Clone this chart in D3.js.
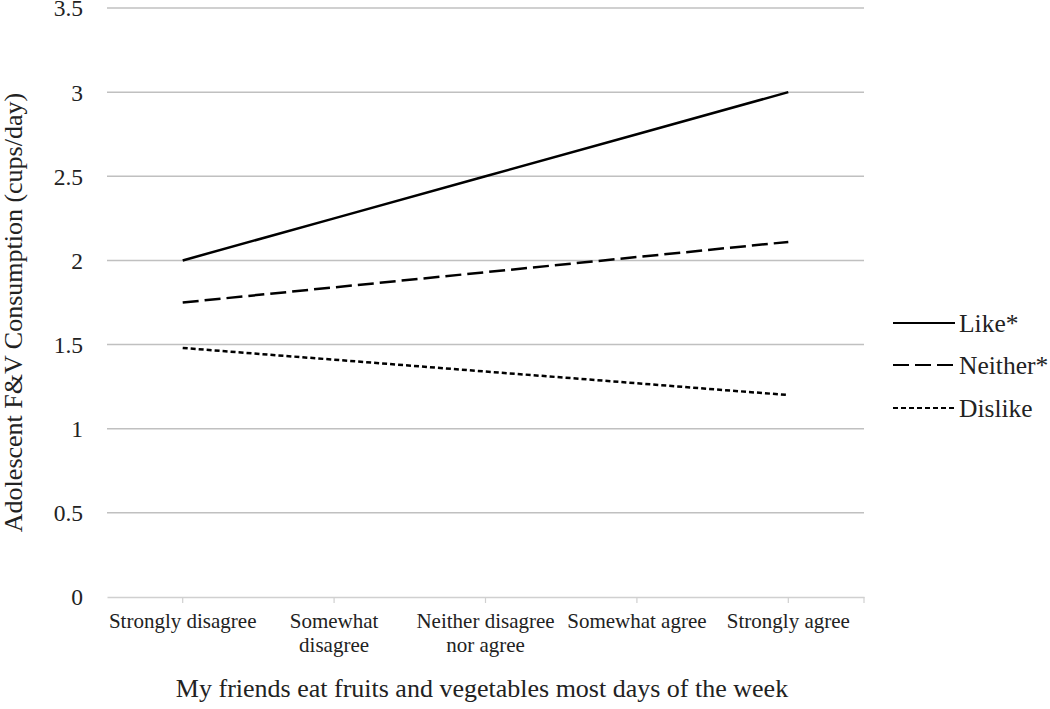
<!DOCTYPE html>
<html>
<head>
<meta charset="utf-8">
<script src="https://cdn.jsdelivr.net/npm/d3@7"></script>
<style>
  html, body { margin: 0; padding: 0; background: #fff; }
  svg { display: block; }
  svg text { font-family: "Liberation Serif", "Times New Roman", serif; }
</style>
</head>
<body>
<svg id="chart" width="1050" height="709"></svg>
<script>
const categories = [
  ["Strongly disagree"],
  ["Somewhat", "disagree"],
  ["Neither disagree", "nor agree"],
  ["Somewhat agree"],
  ["Strongly agree"]
];
const catKeys = categories.map(c => c.join(" "));
const yTicks = [0, 0.5, 1, 1.5, 2, 2.5, 3, 3.5];
const yTickLabels = ["0", "0.5", "1", "1.5", "2", "2.5", "3", "3.5"];
const seriesNames = ["Like*", "Neither*", "Dislike"];
const likeValues = [2.0, 2.25, 2.5, 2.75, 3.0];
const neitherValues = [1.75, 1.84, 1.93, 2.02, 2.11];
const dislikeValues = [1.48, 1.41, 1.34, 1.27, 1.20];
const seriesValues = [likeValues, neitherValues, dislikeValues];
const seriesDash = [null, "16,6", "5,3"];

const FONT = "Liberation Serif, Times New Roman, serif";
const svg = d3.select("#chart");
const pLeft = 107, pRight = 864, pTop = 8, pBottom = 597;

const x = d3.scaleBand().domain(catKeys).range([pLeft, pRight]).padding(0);
const y = d3.scaleLinear().domain([0, 3.5]).range([pBottom, pTop]);

// gridlines
svg.append("g").selectAll("line").data(yTicks.filter(d => d > 0)).join("line")
  .attr("x1", pLeft).attr("x2", pRight)
  .attr("y1", d => y(d)).attr("y2", d => y(d))
  .attr("stroke", "#c0c0c0").attr("stroke-width", 1.5);

// y axis labels
svg.append("g").selectAll("text").data(yTicks).join("text")
  .attr("x", 83).attr("y", d => y(d)).attr("dy", "0.36em")
  .attr("text-anchor", "end").attr("font-size", 23.5).attr("font-family", FONT).attr("fill", "#222")
  .text((d, i) => yTickLabels[i]);

// x axis line
const xAxis = d3.axisBottom(x).tickSize(6).tickFormat("").tickSizeOuter(0);
const gx = svg.append("g").attr("transform", `translate(0,${pBottom})`).call(xAxis);
gx.select(".domain").attr("stroke", "#d0d0d0").attr("stroke-width", 1.5);
gx.selectAll(".tick line").attr("stroke", "#d0d0d0").attr("stroke-width", 1.2);
gx.append("line").attr("x1", pRight).attr("x2", pRight).attr("y1", 0).attr("y2", 6)
  .attr("stroke", "#d0d0d0").attr("stroke-width", 1.2);

// x category labels
const xl = svg.append("g").selectAll("text").data(categories).join("text")
  .attr("text-anchor", "middle").attr("font-size", 21).attr("font-family", FONT).attr("fill", "#222")
  .attr("transform", (d, i) => `translate(${x(catKeys[i]) + x.bandwidth() / 2},${628})`);
xl.selectAll("tspan").data(d => d).join("tspan")
  .attr("x", 0).attr("dy", (d, i) => i === 0 ? 0 : 24).text(d => d);

// lines
const line = d3.line().x((d, i) => x(catKeys[i]) + x.bandwidth() / 2).y(d => y(d));
svg.append("g").selectAll("path").data(seriesValues).join("path")
  .attr("d", d => line(d))
  .attr("fill", "none").attr("stroke", "#000").attr("stroke-width", 2.5)
  .attr("stroke-dasharray", (d, i) => seriesDash[i]);

// axis titles
svg.append("text").attr("transform", `translate(22,${(pTop + pBottom) / 2 + 10}) rotate(-90)`)
  .attr("text-anchor", "middle").attr("font-size", 26).attr("font-family", FONT).attr("fill", "#222")
  .text("Adolescent F&V Consumption (cups/day)");
svg.append("text").attr("x", 482).attr("y", 697)
  .attr("text-anchor", "middle").attr("font-size", 26).attr("font-family", FONT).attr("fill", "#222")
  .text("My friends eat fruits and vegetables most days of the week");

// legend
const legY = [323, 365, 408];
const lg = svg.append("g").selectAll("g").data(seriesNames).join("g")
  .attr("transform", (d, i) => `translate(893,${legY[i]})`);
lg.append("line").attr("x1", 0).attr("x2", 62).attr("y1", 0).attr("y2", 0)
  .attr("stroke", "#000").attr("stroke-width", 2.2)
  .attr("stroke-dasharray", (d, i) => seriesDash[i]);
lg.append("text").attr("x", 66).attr("dy", "0.34em").attr("font-size", 25.5).attr("font-family", FONT).attr("fill", "#222")
  .text(d => d);
</script>
</body>
</html>
